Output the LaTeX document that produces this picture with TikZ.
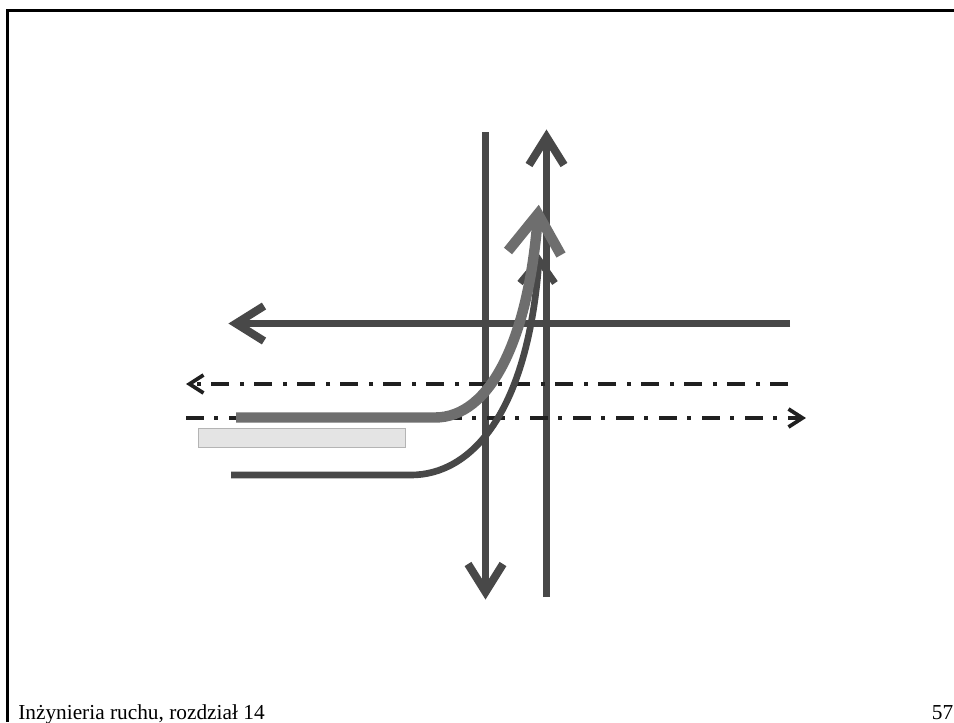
\documentclass[tikz,border=0pt]{standalone}
\usepackage{fontspec}
\setmainfont{Liberation Serif}
\definecolor{RoadDark}{HTML}{484848}
\definecolor{RoadLight}{HTML}{6E6E6E}
\definecolor{RoadBlack}{HTML}{202020}
\definecolor{RefugeFill}{HTML}{E4E4E4}
\definecolor{RefugeEdge}{HTML}{B4B4B4}
\usetikzlibrary{arrows.meta,positioning,calc}
\tikzset{
  lane/.style={line width=5.2pt,RoadDark},
  lanehead/.style={line width=6pt,RoadDark,miter limit=10},
  ped/.style={line width=2.8pt,RoadBlack,dash pattern=on 13.5pt off 7.5pt on 2.8pt off 8.45pt},
  pedhead/.style={line width=2.8pt,RoadBlack,miter limit=10},
  turnlight/.style={line width=7.8pt,RoadLight,miter limit=10},
  turndark/.style={line width=5pt,RoadDark,miter limit=10},
  footer/.style={font=\fontsize{16}{18}\selectfont,inner sep=0pt,anchor=base west}
}
\begin{document}
\begin{tikzpicture}[x=0.75pt,y=-0.75pt]
      \useasboundingbox (0,0) rectangle (954,722);
      \coordinate (frametop) at (954,10.5);
      \coordinate (framecorner) at (7.5,10.5);
      \coordinate (framefoot) at (7.5,722);
      \draw[line width=2.2pt,black] (frametop)--(framecorner)--(framefoot);
      % streets
      \coordinate (southend) at (485.5,132);
      \coordinate (southtip) at (485.5,592);
      \coordinate (northend) at (546.5,597);
      \coordinate (northtip) at (546.5,137);
      \coordinate (westend) at (790,323.5);
      \coordinate (westtip) at (236,323.5);
      \draw[lane] (southend)--(southtip);
      \draw[lane] (northend)--(northtip);
      \draw[lane] (westend)--(westtip);
      \draw[lanehead] ($(southtip)+(-17.5,-28)$)--(southtip)--($(southtip)+(17.5,-28)$);
      \draw[lanehead] ($(northtip)+(-17.5,28)$)--(northtip)--($(northtip)+(17.5,28)$);
      \draw[lanehead] ($(westtip)+(28,-17.5)$)--(westtip)--($(westtip)+(28,17.5)$);
      % crossings
      \coordinate (pedAend) at (788,384);
      \coordinate (pedAtip) at (189.5,384);
      \coordinate (pedBend) at (186,418);
      \coordinate (pedBtip) at (802.5,418);
      \draw[ped] (pedAend)--(pedAtip);
      \draw[ped] (pedBend)--(pedBtip);
      \draw[pedhead] ($(pedAtip)+(14,-9)$)--(pedAtip)--($(pedAtip)+(14,9)$);
      \draw[pedhead] ($(pedBtip)+(-14,-9)$)--(pedBtip)--($(pedBtip)+(-14,9)$);
      % refuge
      \node[draw=RefugeEdge,fill=RefugeFill,line width=0.9pt,minimum width=155.5pt,minimum height=14.5pt,inner sep=0pt] (refuge) at (302,438) {};
      % turning lanes
      \coordinate (lowstart) at (231,475);
      \coordinate (lowbend) at (411,475);
      \coordinate (lowtip) at (539,260);
      \draw[turndark] (lowstart)--(lowbend) .. controls (470,475) and (528,415) .. (lowtip);
      \draw[turndark] (520,283)--(lowtip)--(555,283);
      \coordinate (highstart) at (236,417.5);
      \coordinate (highbend) at (435,417.5);
      \coordinate (hightip) at (538,214);
      \draw[turnlight] (highstart)--(highbend) .. controls (490,417.5) and (529,340) .. (hightip);
      \draw[turnlight] (508,251)--(hightip)--(561,255);
      % footer
      \node[footer] (chapter) at (18,719) {Inżynieria ruchu, rozdział 14};
      \node[footer,anchor=base east] (pagenum) at (953.5,719) {57};
    \end{tikzpicture}
\end{document}
